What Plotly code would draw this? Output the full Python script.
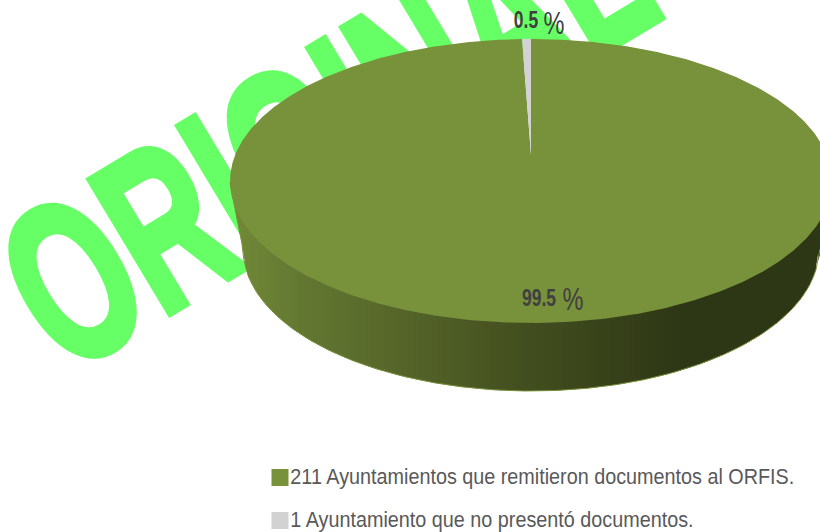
import numpy as np
import plotly.graph_objects as go

# ---- data ----
categories = ["211 Ayuntamientos que remitieron documentos al ORFIS.",
              "1 Ayuntamiento que no presentó documentos."]
values = [211, 1]
colors = ["#78913b", "#d2d2d2"]
watermark = "ORIGINAL"

# ---- geometry / style ----
W, H = 820, 532
CX, TOP_CY, RX, RY = 531, 181, 301, 142
APEX_Y = 155
BOT_CY, BOT_RX, BOT_RY = 249, 288, 142
LEFT_X, LEFT_Y = CX - RX, TOP_CY + 2
BOT_LEFT = CX - BOT_RX
grad_x = [231, 300, 420, 530, 610, 680, 831]
grad_r = [114, 100, 83, 66, 56, 47, 46]
grad_g = [138, 120, 98, 78, 66, 55, 55]
grad_b = [56, 50, 40, 31, 26, 22, 21]

total = sum(values)
fracs = [v / total for v in values]
pct = [f"{100 * f:.1f}" for f in fracs]

fig = go.Figure()

# watermark lies behind the pie
fig.add_trace(go.Scatter(x=[366], y=[139], mode="text", text=[watermark],
                         textposition="middle center", cliponaxis=False,
                         textfont=dict(family="Liberation Sans", size=226, color="#66ff66", weight="bold"),
                         hoverinfo="skip", showlegend=False))


def bottom_edge(x):
    x = np.asarray(x, float)
    y = BOT_CY + BOT_RY * np.sqrt(np.clip(1 - ((x - CX) / BOT_RX) ** 2, 0, 1))
    left = x < BOT_LEFT
    y[left] = LEFT_Y + (x[left] - LEFT_X) / (BOT_LEFT - LEFT_X) * (BOT_CY - LEFT_Y)
    return y


# rim line + gradient side wall, drawn in thin strips
xs = np.arange(LEFT_X, 824, 3.0)
for x0 in xs:
    x1 = x0 + 4
    sx = np.array([x0, x1])
    by = bottom_edge(sx)
    mid = x0 + 1.5
    col = "rgb(%d,%d,%d)" % (np.interp(mid, grad_x, grad_r), np.interp(mid, grad_x, grad_g), np.interp(mid, grad_x, grad_b))
    fig.add_trace(go.Scatter(x=[x0, x1, x1, x0], y=[TOP_CY, TOP_CY, by[1], by[0]], mode="lines",
                             fill="toself", fillcolor=col, line=dict(width=0), hoverinfo="skip", showlegend=False))
edge_x = np.linspace(LEFT_X, 824, 300)
fig.add_trace(go.Scatter(x=edge_x, y=bottom_edge(edge_x), mode="lines", line=dict(color=colors[0], width=1),
                         hoverinfo="skip", showlegend=False))

# top face slices: angles derive from the values, clockwise from 12 o'clock
start = 0.0
for f, c in zip(fracs, colors):
    th = np.linspace(start, start + f * 2 * np.pi, max(3, int(f * 720)))
    px = np.r_[CX, CX + RX * np.sin(th)]
    py = np.r_[APEX_Y, TOP_CY - RY * np.cos(th)]
    fig.add_trace(go.Scatter(x=px, y=py, mode="lines", fill="toself", fillcolor=c, line=dict(width=0),
                             hoverinfo="skip", showlegend=False))
    start += f * 2 * np.pi

# data labels
lab = dict(family="Liberation Sans", size=23, color="#404040", weight="bold")
pctf = dict(family="Liberation Sans", size=31, color="#404040")
fig.add_trace(go.Scatter(x=[539], y=[300], mode="text", text=[pct[0]], textposition="middle center",
                         textfont=lab, hoverinfo="skip", showlegend=False))
fig.add_trace(go.Scatter(x=[573], y=[302], mode="text", text=["%"], textposition="middle center",
                         textfont=pctf, hoverinfo="skip", showlegend=False))
fig.add_trace(go.Scatter(x=[526], y=[22], mode="text", text=[pct[1]], textposition="middle center",
                         textfont=lab, hoverinfo="skip", showlegend=False))
fig.add_trace(go.Scatter(x=[554], y=[26], mode="text", text=["%"], textposition="middle center",
                         textfont=pctf, hoverinfo="skip", showlegend=False))

# legend
leg_y = [477.5, 520.5]
for cat, c, y in zip(categories, colors, leg_y):
    fig.add_trace(go.Scatter(x=[280], y=[y], mode="markers+text", text=[cat], textposition="middle right",
                             marker=dict(symbol="square", size=15, color=c, line=dict(color=c, width=2)),
                             textfont=dict(family="Liberation Sans", size=22, color="#595959"),
                             cliponaxis=False, hoverinfo="skip", showlegend=False))

fig.update_layout(
    width=W, height=H, margin=dict(l=0, r=0, t=0, b=0), showlegend=False,
    paper_bgcolor="white", plot_bgcolor="white",
    xaxis=dict(range=[0, W], visible=False, fixedrange=True),
    yaxis=dict(range=[H, 0], visible=False, fixedrange=True),
)

post = """
document.body.style.margin = '0';
document.body.style.overflow = 'hidden';
document.querySelectorAll('.textpoint text').forEach(function (el) {
  var x = +el.getAttribute('x'), y = +el.getAttribute('y');
  var t = el.textContent;
  if (t === 'ORIGINAL') {
    el.setAttribute('transform', 'rotate(-31 '+x+' '+y+') translate('+x+' '+y+') scale(0.635 1) translate('+(-x)+' '+(-y)+')');
    el.style.stroke = '#66ff66';
    el.style.strokeWidth = '6px';
    el.style.vectorEffect = 'non-scaling-stroke';
    el.style.strokeLinejoin = 'miter';
  } else if (t.length > 10) {
    el.setAttribute('transform', 'translate('+x+' '+(y+1.5)+') scale(0.9 1) translate('+(-x)+' '+(-y)+')');
  } else {
    el.setAttribute('transform', 'translate('+x+' '+y+') scale(0.76 1) translate('+(-x)+' '+(-y)+')');
  }
});
"""
fig.write_html("out.html", post_script=post, config={"displayModeBar": False})
